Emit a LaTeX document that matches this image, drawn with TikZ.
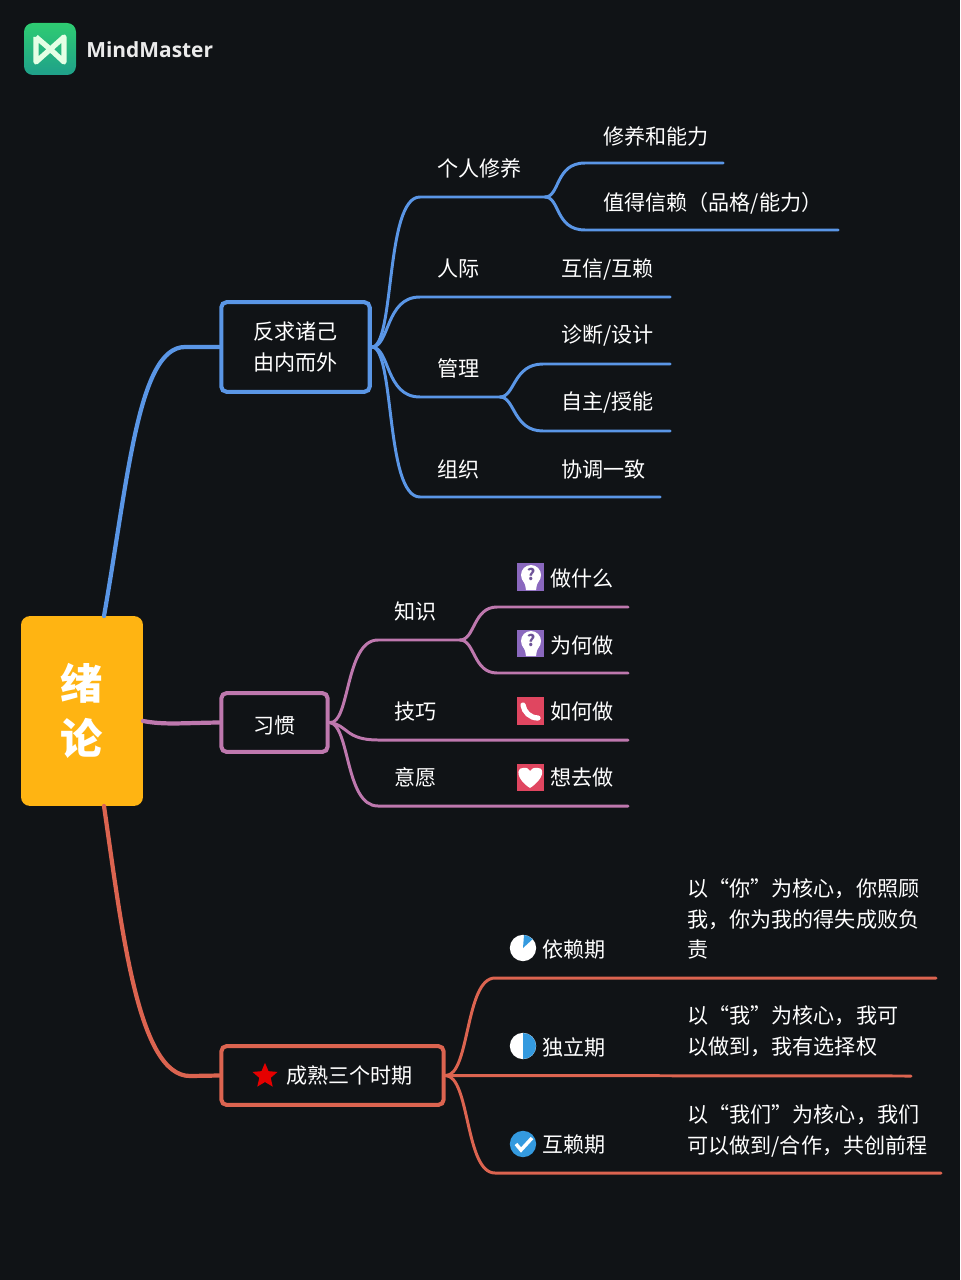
\documentclass[tikz,border=0pt]{standalone}
\usepackage{fontspec}
\setmainfont{Noto Sans CJK SC}
\newfontfamily\logofont{Open Sans}
\usetikzlibrary{shapes.geometric}
\definecolor{bgdark}{HTML}{101316}
\definecolor{rootyellow}{HTML}{FFB412}
\definecolor{blueline}{HTML}{5A96E6}
\definecolor{pinkline}{HTML}{BE78AE}
\definecolor{redline}{HTML}{DC6450}
\definecolor{bulbpurple}{HTML}{8A68BE}
\definecolor{iconred}{HTML}{E04660}
\definecolor{pieblue}{HTML}{349ADF}
\definecolor{logotop}{HTML}{2ECC72}
\definecolor{logobottom}{HTML}{1FA08A}
\tikzset{
  rootbox/.style={fill=rootyellow, rounded corners=5, minimum width=69.4pt, minimum height=108pt, inner sep=0, text=white, font=\fontsize{24}{31}\selectfont\bfseries, align=center},
  topicbox/.style={draw, line width=2.3pt, rounded corners=3, fill=bgdark, inner sep=0, text=white, font=\fontsize{12}{17.6}\selectfont, align=center},
  leaf/.style={text=white, inner sep=0, font=\fontsize{12}{17.6}\selectfont, align=left, anchor=west},
  branch/.style={line width=1.7pt, line cap=round},
  thickbranch/.style={line width=2.4pt, line cap=round},
  iconsq/.style={minimum size=15.5pt, inner sep=0},
  iconpie/.style={circle, fill=white, minimum size=15pt, inner sep=0},
  qmark/.style={inner sep=0, text=bulbpurple!80!black, font=\fontsize{9}{9}\selectfont\bfseries},
}
\begin{document}
\begin{tikzpicture}[x=0.02cm, y=-0.02cm]
\useasboundingbox[fill=bgdark] (0,0) rectangle (960,1280);
% Logo
\fill[top color=logotop, bottom color=logobottom, rounded corners=5] (24,23) rectangle (76,75);
\draw[white!90!green, line width=3pt, line join=round] (36,37) -- (36,62) -- (64,37) -- (64,62) -- (50,49) -- (36,37);
\node[inner sep=0, anchor=west, text=white!92!black, font=\logofont\fontsize{11.9}{14}\selectfont\bfseries] (brand) at (86,50) {MindMaster};
% Nodes
\node[rootbox] (root) at (82,711) {绪\\论};
\node[topicbox, draw=blueline, minimum width=84.5pt, minimum height=51pt] (t1) at (295.5,347) {反求诸己\\由内而外};
\node[topicbox, draw=pinkline, minimum width=60.5pt, minimum height=33.5pt, text height=13.5pt, text depth=1.4pt] (t2) at (274.5,722.5) {习惯};
\node[topicbox, draw=redline, minimum width=126.5pt, minimum height=33.5pt] (t3) at (332.5,1075.5) {\hspace{19.5pt}成熟三个时期};
% Branch points
\coordinate (r1) at (104,616);
\coordinate (r2) at (143,721);
\coordinate (r3) at (104,806);
\coordinate (a1) at (545,197);
\coordinate (a2) at (500,397);
\coordinate (b1) at (460,640);
\coordinate (e1) at (723,163);
\coordinate (e2) at (838,230);
\coordinate (e3) at (670,297);
\coordinate (e4) at (670,364);
\coordinate (e5) at (670,431);
\coordinate (e6) at (660,497);
\coordinate (f1) at (628,607);
\coordinate (f2) at (628,673);
\coordinate (f3) at (628,740);
\coordinate (f4) at (628,806);
\coordinate (g1) at (936,978);
\coordinate (g2) at (911,1076);
\coordinate (g3) at (941,1173);
% Texts
\node[leaf] (n1) at (437,168) {个人修养};
\node[leaf] (n2) at (603,136) {修养和能力};
\node[leaf] (n3) at (603,203) {值得信赖（品格/能力）};
\node[leaf] (n4) at (437,269) {人际};
\node[leaf] (n5) at (561,270) {互信/互赖};
\node[leaf] (n6) at (437,368) {管理};
\node[leaf] (n7) at (561,336) {诊断/设计};
\node[leaf] (n8) at (561,403) {自主/授能};
\node[leaf] (n9) at (437,469) {组织};
\node[leaf] (n10) at (561,469) {协调一致};
\node[leaf] (m1) at (394,611) {知识};
\node[leaf] (m2) at (550,578) {做什么};
\node[leaf] (m3) at (550,645) {为何做};
\node[leaf] (m4) at (394,711) {技巧};
\node[leaf] (m5) at (550,711) {如何做};
\node[leaf] (m6) at (394,777) {意愿};
\node[leaf] (m7) at (550,777) {想去做};
\node[leaf] (k1) at (542,950) {依赖期};
\node[leaf] (k2) at (542,1047) {独立期};
\node[leaf] (k3) at (542,1145) {互赖期};
\node[leaf] (k4) at (687,919) {以“你”为核心，你照顾\\我，你为我的得失成败负\\责};
\node[leaf] (k5) at (687,1031) {以“我”为核心，我可\\以做到，我有选择权};
\node[leaf] (k6) at (687,1131) {以“我们”为核心，我们\\可以做到/合作，共创前程};
% Icons
\node[iconsq, fill=bulbpurple] (i1) at (530.5,577) {};
\node[iconsq, fill=bulbpurple] (i2) at (530.5,643.5) {};
\node[iconsq, fill=iconred] (i3) at (530.5,711) {};
\node[iconsq, fill=iconred] (i4) at (530.5,777.5) {};
\fill[white] (531,575) circle (10);
\fill[white] (522,579) .. controls (525,584) and (526,586) .. (526,590) -- (536,590) .. controls (536,586) and (537,584) .. (540,579) -- cycle;
\fill[white] (531,641) circle (10);
\fill[white] (522,645) .. controls (525,650) and (526,652) .. (526,656) -- (536,656) .. controls (536,652) and (537,650) .. (540,645) -- cycle;
\node[qmark] (q1) at (531,574) {?};
\node[qmark] (q2) at (531,640) {?};
\draw[white, line width=3pt, line cap=round] (523,705) .. controls (524,712) and (530,718) .. (538,718);
\fill[white] (530,788) .. controls (516,779) and (516,768) .. (523,768) .. controls (527,767) and (529,769) .. (530,771) .. controls (531,769) and (534,767) .. (538,768) .. controls (545,768) and (544,779) .. (530,788) -- cycle;
\node[iconpie] (p1) at (523,948) {};
\node[iconpie] (p2) at (523,1046) {};
\node[iconpie, fill=pieblue] (p3) at (523,1144) {};
\fill[pieblue] (p1.center) -- (524,935) arc (-85:-42:13) -- cycle;
\fill[pieblue] (p2.center) -- (523,1033) arc (-90:90:13) -- cycle;
\draw[white, line width=2pt] (516,1144) -- (521,1150) -- (532,1138);
\node[star, star points=5, star point ratio=2.2, fill=red!90!black, minimum size=15pt, inner sep=0] (s1) at (265,1076) {};
% Connectors
\draw[thickbranch, blueline] (r1) .. controls (128,480) and (138,347) .. (185,347) -- (t1.west);
\draw[thickbranch, pinkline] (r2) .. controls (165,725) and (180,723) .. (t2.west);
\draw[thickbranch, redline] (r3) .. controls (122,930) and (138,1076) .. (190,1076) -- (t3.west);
% Blue branches
\draw[branch, blueline] (t1.east) .. controls (395,347) and (385,197) .. (420,197) -- (a1);
\draw[branch, blueline] (a1) .. controls (560,197) and (555,163) .. (585,163) -- (e1);
\draw[branch, blueline] (a1) .. controls (560,197) and (555,230) .. (585,230) -- (e2);
\draw[branch, blueline] (t1.east) .. controls (390,347) and (385,297) .. (420,297) -- (e3);
\draw[branch, blueline] (t1.east) .. controls (390,347) and (385,397) .. (420,397) -- (a2);
\draw[branch, blueline] (a2) .. controls (515,397) and (513,364) .. (543,364) -- (e4);
\draw[branch, blueline] (a2) .. controls (515,397) and (513,431) .. (543,431) -- (e5);
\draw[branch, blueline] (t1.east) .. controls (395,347) and (385,497) .. (420,497) -- (e6);
% Pink branches
\draw[branch, pinkline] (t2.east) .. controls (350,725) and (345,640) .. (378,640) -- (b1);
\draw[branch, pinkline] (b1) .. controls (475,640) and (473,607) .. (497,607) -- (f1);
\draw[branch, pinkline] (b1) .. controls (475,640) and (473,673) .. (497,673) -- (f2);
\draw[branch, pinkline] (t2.east) .. controls (348,725) and (345,740) .. (378,740) -- (f3);
\draw[branch, pinkline] (t2.east) .. controls (350,725) and (345,806) .. (378,806) -- (f4);
% Red branches
\draw[branch, redline] (t3.east) .. controls (470,1076) and (465,978) .. (495,978) -- (g1);
\draw[branch, redline] (t3.east) -- (g2);
\draw[branch, redline] (t3.east) .. controls (470,1076) and (465,1173) .. (495,1173) -- (g3);
\end{tikzpicture}
\end{document}
